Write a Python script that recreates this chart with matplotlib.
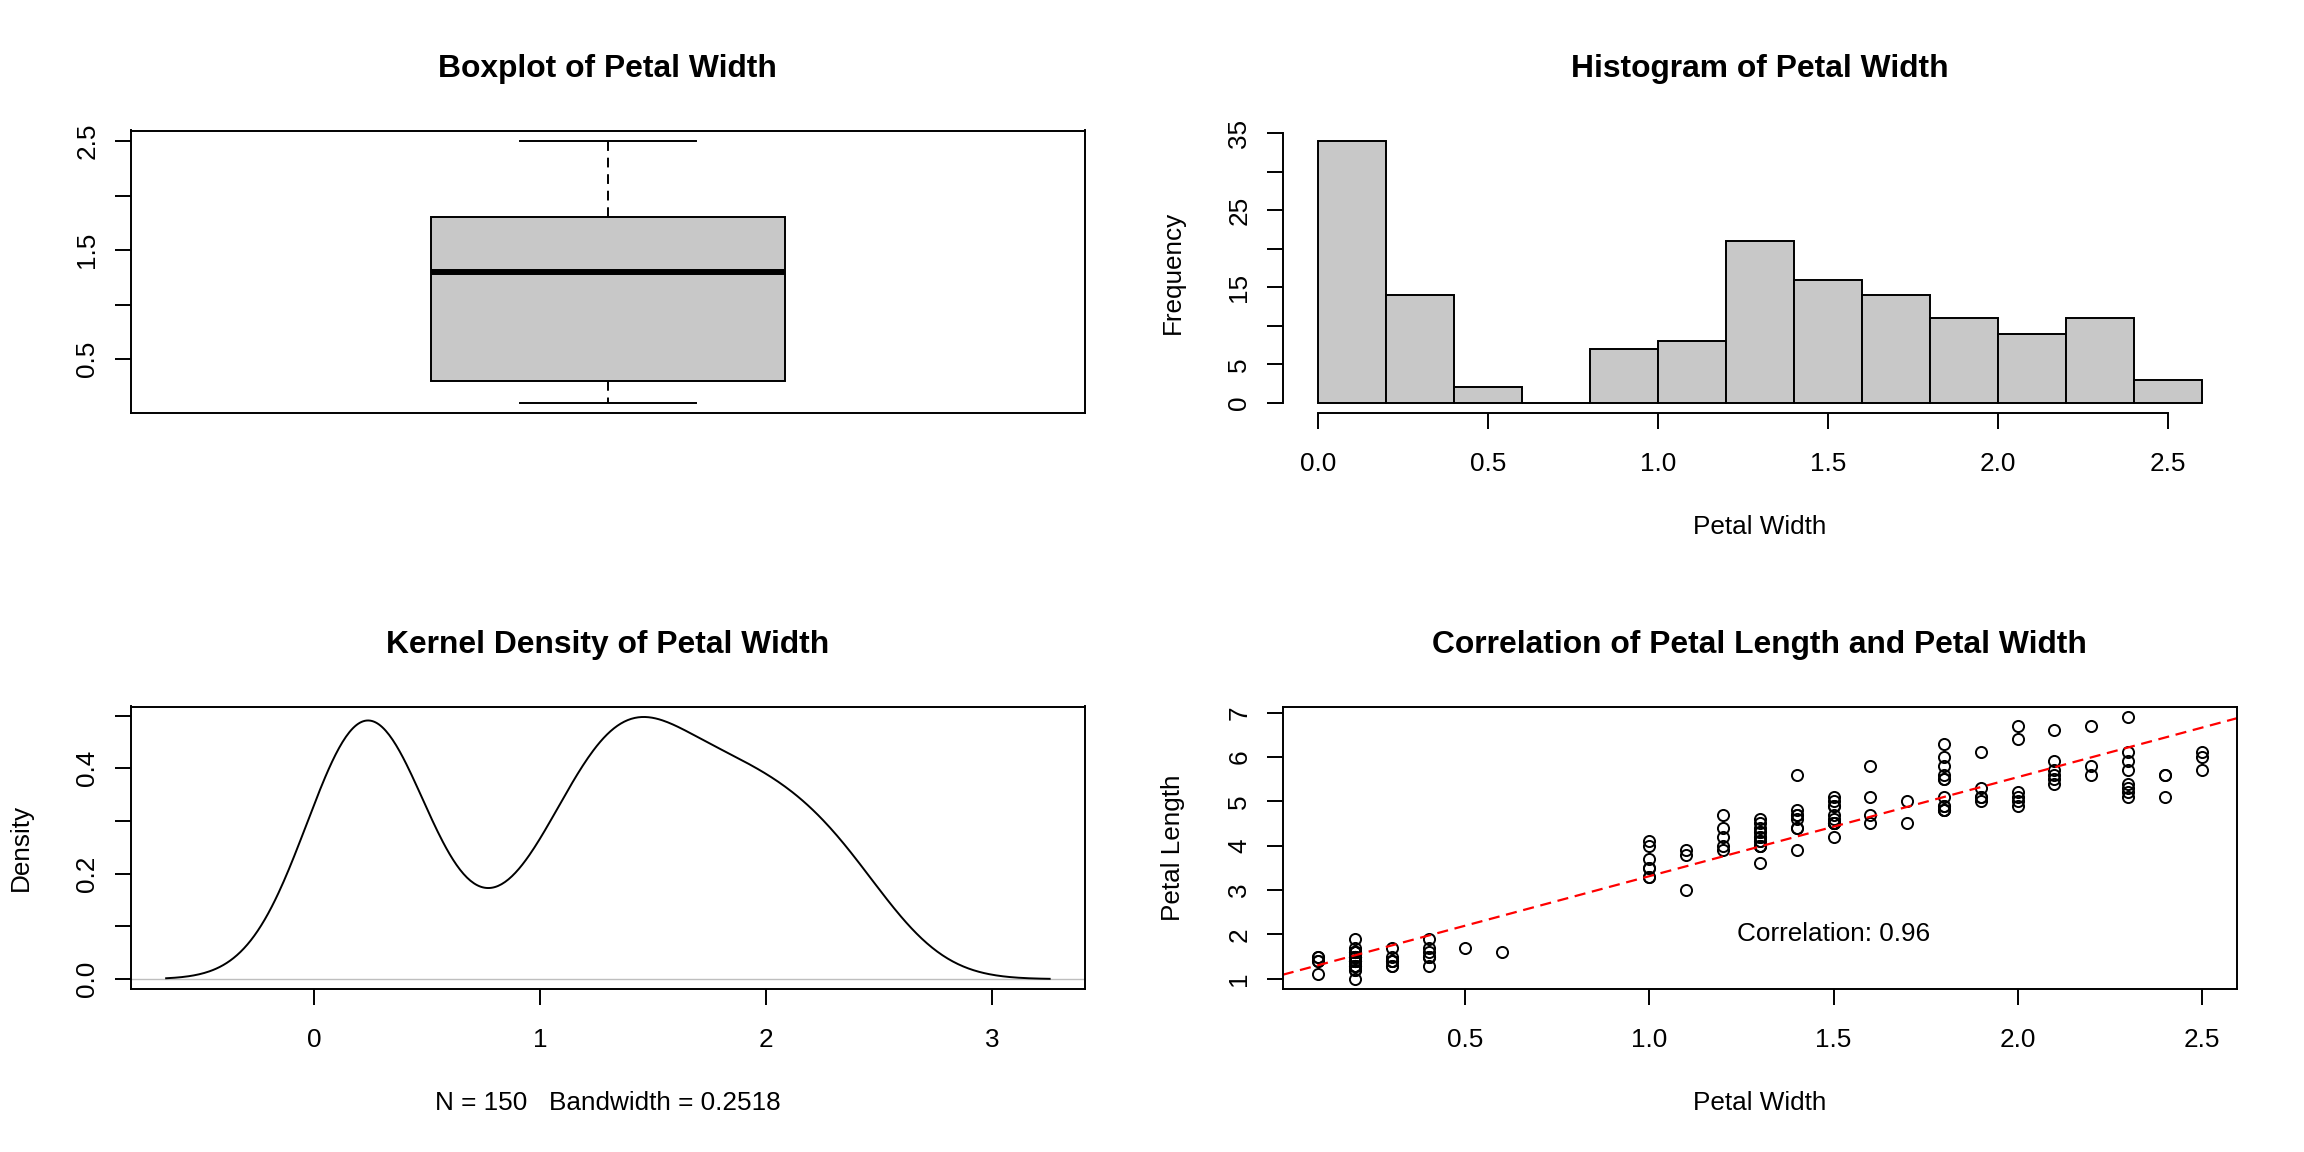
import numpy as np
import matplotlib
matplotlib.use("Agg")
import matplotlib.pyplot as plt

plt.rcParams['font.family'] = ['Liberation Sans', 'DejaVu Sans']

# iris petal measurements (setosa, versicolor, virginica)
petal_width = [
    0.2, 0.2, 0.2, 0.2, 0.2, 0.4, 0.3, 0.2, 0.2, 0.1,
    0.2, 0.2, 0.1, 0.1, 0.2, 0.4, 0.4, 0.3, 0.3, 0.3,
    0.2, 0.4, 0.2, 0.5, 0.2, 0.2, 0.4, 0.2, 0.2, 0.2,
    0.2, 0.4, 0.1, 0.2, 0.2, 0.2, 0.2, 0.1, 0.2, 0.2,
    0.3, 0.3, 0.2, 0.6, 0.4, 0.3, 0.2, 0.2, 0.2, 0.2,
    1.4, 1.5, 1.5, 1.3, 1.5, 1.3, 1.6, 1.0, 1.3, 1.4,
    1.0, 1.5, 1.0, 1.4, 1.3, 1.4, 1.5, 1.0, 1.5, 1.1,
    1.8, 1.3, 1.5, 1.2, 1.3, 1.4, 1.4, 1.7, 1.5, 1.0,
    1.1, 1.0, 1.2, 1.6, 1.5, 1.6, 1.5, 1.3, 1.3, 1.3,
    1.2, 1.4, 1.2, 1.0, 1.3, 1.2, 1.3, 1.3, 1.1, 1.3,
    2.5, 1.9, 2.1, 1.8, 2.2, 2.1, 1.7, 1.8, 1.8, 2.5,
    2.0, 1.9, 2.1, 2.0, 2.4, 2.3, 1.8, 2.2, 2.3, 1.5,
    2.3, 2.0, 2.0, 1.8, 2.1, 1.8, 1.8, 1.8, 2.1, 1.6,
    1.9, 2.0, 2.2, 1.5, 1.4, 2.3, 2.4, 1.8, 1.8, 2.1,
    2.4, 2.3, 1.9, 2.3, 2.5, 2.3, 1.9, 2.0, 2.3, 1.8,
]
petal_length = [
    1.4, 1.4, 1.3, 1.5, 1.4, 1.7, 1.4, 1.5, 1.4, 1.5,
    1.5, 1.6, 1.4, 1.1, 1.2, 1.5, 1.3, 1.4, 1.7, 1.5,
    1.7, 1.5, 1.0, 1.7, 1.9, 1.6, 1.6, 1.5, 1.4, 1.6,
    1.6, 1.5, 1.5, 1.4, 1.5, 1.2, 1.3, 1.4, 1.3, 1.5,
    1.3, 1.3, 1.3, 1.6, 1.9, 1.4, 1.6, 1.4, 1.5, 1.4,
    4.7, 4.5, 4.9, 4.0, 4.6, 4.5, 4.7, 3.3, 4.6, 3.9,
    3.5, 4.2, 4.0, 4.7, 3.6, 4.4, 4.5, 4.1, 4.5, 3.9,
    4.8, 4.0, 4.9, 4.7, 4.3, 4.4, 4.8, 5.0, 4.5, 3.5,
    3.8, 3.7, 3.9, 5.1, 4.5, 4.5, 4.7, 4.4, 4.1, 4.0,
    4.4, 4.6, 4.0, 3.3, 4.2, 4.2, 4.2, 4.3, 3.0, 4.1,
    6.0, 5.1, 5.9, 5.6, 5.8, 6.6, 4.5, 6.3, 5.8, 6.1,
    5.1, 5.3, 5.5, 5.0, 5.1, 5.3, 5.5, 6.7, 6.9, 5.0,
    5.7, 4.9, 6.7, 4.9, 5.7, 6.0, 4.8, 4.9, 5.6, 5.8,
    6.1, 6.4, 5.6, 5.1, 5.6, 6.1, 5.6, 5.5, 4.8, 5.4,
    5.6, 5.1, 5.1, 5.9, 5.7, 5.2, 5.0, 5.2, 5.4, 5.1,
]

hist_breaks = [0.0, 0.2, 0.4, 0.6, 0.8, 1.0, 1.2, 1.4, 1.6, 1.8, 2.0, 2.2, 2.4, 2.6]

FILL = "#C8C8C8"
LW = 1.4
FS = 18.8
TITLE_FS = 22.9


def r_lim(lo, hi):
    # R style 4% axis extension
    pad = (hi - lo) * 0.04
    return lo - pad, hi + pad


def style_axes(ax, title, xlabel=None, ylabel=None):
    for s in ax.spines.values():
        s.set_linewidth(LW)
    ax.tick_params(axis='both', length=11.5, width=LW, labelsize=FS)
    ax.tick_params(axis='x', pad=16.3)
    ax.tick_params(axis='y', pad=11.3, labelrotation=90)
    for lab in ax.get_yticklabels():
        lab.set_va('center')
    ax.set_title(title, fontsize=TITLE_FS, fontweight='bold', pad=38.2)
    if xlabel:
        ax.set_xlabel(xlabel, fontsize=FS)
        ax.xaxis.set_label_coords(0.5, -0.36)
    if ylabel:
        ax.set_ylabel(ylabel, fontsize=FS)
        ax.yaxis.set_label_coords(-0.1024, 0.5)


pw = np.array(petal_width)
pl = np.array(petal_length)

fig = plt.figure(figsize=(23.04, 11.52), dpi=100)
W, H = 954.2 / 2304, 282.8 / 1152
ax_box = fig.add_axes([130.8 / 2304, 1 - 413.3 / 1152, W, H])
ax_hist = fig.add_axes([1282.8 / 2304, 1 - 413.3 / 1152, W, H])
ax_dens = fig.add_axes([130.8 / 2304, 1 - 989.3 / 1152, W, H])
ax_corr = fig.add_axes([1282.8 / 2304, 1 - 989.3 / 1152, W, H])

# --- boxplot
ax_box.boxplot(pw, positions=[1], widths=0.4, capwidths=0.2, patch_artist=True,
               showfliers=False,
               boxprops=dict(facecolor=FILL, edgecolor='black', linewidth=LW),
               medianprops=dict(color='black', linewidth=4.3, solid_capstyle='butt'),
               whiskerprops=dict(color='black', linewidth=LW, linestyle=(0, (5, 3.5))),
               capprops=dict(color='black', linewidth=LW))
ax_box.set_xlim(0.46, 1.54)
ax_box.set_ylim(*r_lim(pw.min(), pw.max()))
ax_box.set_xticks([])
ax_box.set_yticks([0.5, 1.0, 1.5, 2.0, 2.5])
ax_box.set_yticklabels(['0.5', '', '1.5', '', '2.5'])
style_axes(ax_box, 'Boxplot of Petal Width')

# --- histogram (right-closed bins like R)
edges = np.array(hist_breaks)
idx = np.searchsorted(edges, pw, side='left') - 1
idx[idx < 0] = 0
counts = np.bincount(idx, minlength=len(edges) - 1)
ax_hist.bar(edges[:-1], counts, width=0.2, align='edge', color=FILL,
            edgecolor='black', linewidth=LW)
ax_hist.set_xlim(*r_lim(edges[0], edges[-1]))
ax_hist.set_ylim(*r_lim(0, counts.max()))
ax_hist.set_xticks([0.0, 0.5, 1.0, 1.5, 2.0, 2.5])
ax_hist.set_xticklabels(['0.0', '0.5', '1.0', '1.5', '2.0', '2.5'])
ax_hist.set_yticks([0, 5, 10, 15, 20, 25, 30, 35])
ax_hist.set_yticklabels(['0', '5', '', '15', '', '25', '', '35'])
ax_hist.spines['top'].set_visible(False)
ax_hist.spines['right'].set_visible(False)
ax_hist.spines['left'].set_bounds(0, 35)
ax_hist.spines['bottom'].set_bounds(0, 2.5)
style_axes(ax_hist, 'Histogram of Petal Width', 'Petal Width', 'Frequency')

# --- kernel density (gaussian, bw.nrd0)
n = len(pw)
q1, q3 = np.percentile(pw, [25, 75])
bw = 0.9 * min(pw.std(ddof=1), (q3 - q1) / 1.34) * n ** -0.2
xs = np.linspace(pw.min() - 3 * bw, pw.max() + 3 * bw, 512)
dens = np.exp(-0.5 * ((xs[:, None] - pw[None, :]) / bw) ** 2).sum(axis=1) / (n * bw * np.sqrt(2 * np.pi))
ax_dens.axhline(0, color='#BEBEBE', linewidth=1.0)
ax_dens.plot(xs, dens, color='black', linewidth=LW)
ax_dens.set_xlim(*r_lim(xs.min(), xs.max()))
ax_dens.set_ylim(*r_lim(dens.min(), dens.max()))
ax_dens.set_xticks([0, 1, 2, 3])
ax_dens.set_yticks([0.0, 0.1, 0.2, 0.3, 0.4, 0.5])
ax_dens.set_yticklabels(['0.0', '', '0.2', '', '0.4', ''])
style_axes(ax_dens, 'Kernel Density of Petal Width',
           'N = %d   Bandwidth = %.4f' % (n, bw), 'Density')

# --- correlation scatter
slope, intercept = np.polyfit(pw, pl, 1)
r = np.corrcoef(pw, pl)[0, 1]
ax_corr.plot(pw, pl, 'o', mfc='none', mec='black', ms=8.0, mew=LW, linestyle='none')
ax_corr.axline((0, intercept), slope=slope, color='red', linewidth=1.6,
               linestyle=(0, (5, 3)))
ax_corr.text(1.5, 2, 'Correlation: %.2f' % r, ha='center', va='center', fontsize=FS)
ax_corr.set_xlim(*r_lim(pw.min(), pw.max()))
ax_corr.set_ylim(*r_lim(pl.min(), pl.max()))
ax_corr.set_xticks([0.5, 1.0, 1.5, 2.0, 2.5])
ax_corr.set_yticks([1, 2, 3, 4, 5, 6, 7])
style_axes(ax_corr, 'Correlation of Petal Length and Petal Width',
           'Petal Width', 'Petal Length')

fig.savefig('out.png', dpi=100)
